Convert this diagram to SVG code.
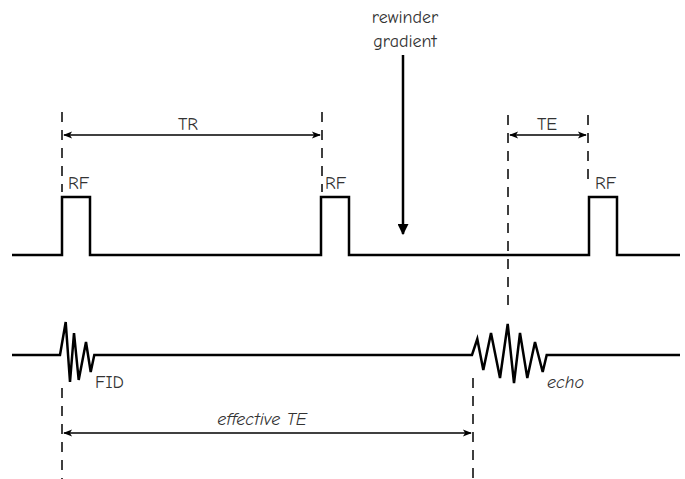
<svg xmlns="http://www.w3.org/2000/svg" width="685" height="479" viewBox="0 0 685 479">
<style>
.sig{fill:none;stroke:#000;stroke-width:2.5;stroke-linejoin:miter}
.dash{fill:none;stroke:#000;stroke-width:1.5;stroke-dasharray:10 8}
.dim{fill:none;stroke:#000;stroke-width:1.5}
.lbl{font-family:"Comic Neue","Liberation Sans",sans-serif;font-size:18px;fill:#333}
.it{font-style:italic}
</style>
<defs>
<marker id="ah" viewBox="0 0 10 10" refX="9" refY="5" markerWidth="10" markerHeight="9" orient="auto-start-reverse" markerUnits="userSpaceOnUse">
<path d="M0,1 L10,5 L0,9 L2.5,5 Z" fill="#000"/>
</marker>
<marker id="ah2" viewBox="0 0 10 10" refX="9" refY="5" markerWidth="11" markerHeight="11" orient="auto" markerUnits="userSpaceOnUse">
<path d="M0,0 L10,5 L0,10 Z" fill="#000"/>
</marker>
</defs>
<g id="rf-line">
<path class="sig" d="M12,255 H62 V197 H90 V255 H321 V197 H349 V255 H589 V197 H617 V255 H680"/>
</g>
<g id="signal-line">
<path class="sig" d="M12,355 H60 L65.7,322 L70,382 L74,333 L78.7,380 L86,342 L90.7,372 L94.3,355 H472 L477.3,339 L483.3,370 L491,333 L500,378 L507.7,324 L514,383 L520,333 L527.3,378 L535,342 L542.7,372 L546.7,355 H680"/>
</g>
<g id="connectors">
<line class="dash" x1="62" y1="112" x2="62" y2="192"/>
<line class="dash" x1="322" y1="112" x2="322" y2="192"/>
<line class="dash" x1="508" y1="115" x2="508" y2="312"/>
<line class="dash" x1="588" y1="115" x2="588" y2="185"/>
<line class="dash" x1="62" y1="388" x2="62" y2="479"/>
<line class="dash" x1="473" y1="378" x2="473" y2="479"/>
<line class="dim" x1="64" y1="135" x2="320" y2="135" marker-start="url(#ah)" marker-end="url(#ah)"/>
<line class="dim" x1="510" y1="135" x2="586" y2="135" marker-start="url(#ah)" marker-end="url(#ah)"/>
<line class="dim" x1="64" y1="433" x2="471" y2="433" marker-start="url(#ah)" marker-end="url(#ah)"/>
<line x1="403" y1="55" x2="403" y2="234" stroke="#000" stroke-width="2.5" marker-end="url(#ah2)"/>
</g>
<g id="labels">
<text class="lbl" x="188" y="130" text-anchor="middle">TR</text>
<text class="lbl" x="547" y="130" text-anchor="middle">TE</text>
<text class="lbl" x="68" y="189">RF</text>
<text class="lbl" x="325" y="189">RF</text>
<text class="lbl" x="595" y="189">RF</text>
<text class="lbl" x="405" y="23" text-anchor="middle">rewinder</text>
<text class="lbl" x="405" y="47" text-anchor="middle">gradient</text>
<text class="lbl" x="95" y="388">FID</text>
<text class="lbl it" x="547" y="388">echo</text>
<text class="lbl it" x="262" y="425" text-anchor="middle">effective TE</text>
</g>
</svg>
